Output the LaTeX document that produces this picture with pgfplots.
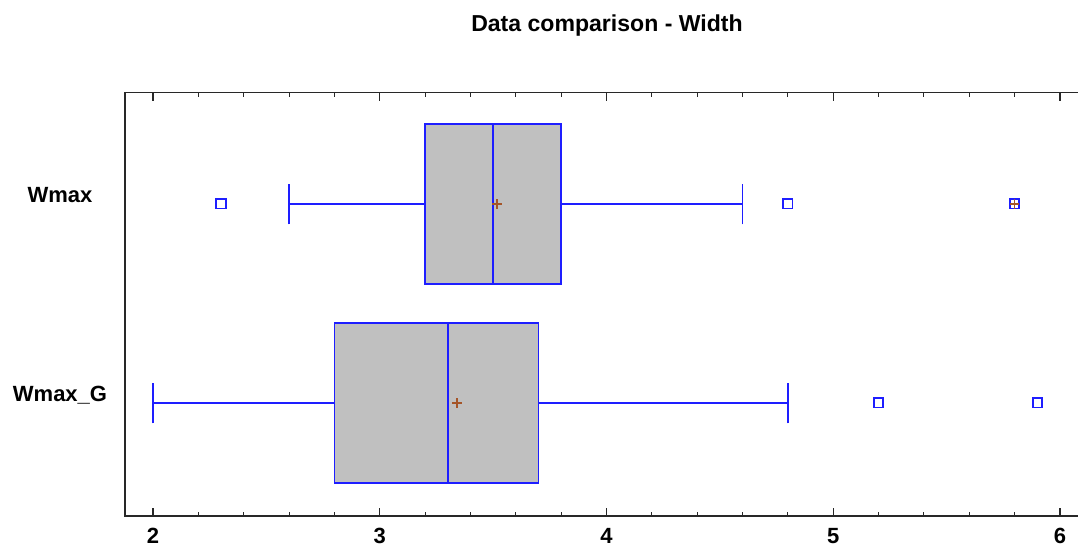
\documentclass[border=0pt]{standalone}
\usepackage{fontspec}
\setmainfont{Liberation Sans}
\usepackage{pgfplots}
\pgfplotsset{compat=1.18}
\usepgfplotslibrary{statistics}
\definecolor{boxgray}{RGB}{192,192,192}
\definecolor{meanbrown}{RGB}{165,85,40}
\definecolor{boxblue}{RGB}{30,30,255}
\definecolor{axisgray}{RGB}{40,40,40}
\begin{document}
\begin{tikzpicture}[x=1pt,y=1pt]
\useasboundingbox (-93.75,-24) rectangle (714.75,387);
\begin{axis}[
  at={(0,0)}, anchor=south west,
  scale only axis, width=717pt, height=317.5pt,
  xmin=1.8765, xmax=6.0927, ymin=0.432, ymax=2.559,
  axis line style={axisgray, line width=1pt},
  xtick={2,3,4,5,6}, minor x tick num=4,
  xtick pos=both, tick align=inside,
  major tick length=6pt, minor tick length=3pt,
  every tick/.style={axisgray, line width=0.8pt},
  ytick={1,2}, yticklabels={Wmax\_G, Wmax},
  ytick style={draw=none},
  /pgf/number format/assume math mode=true,
  xticklabel style={font=\bfseries\fontsize{16.5}{19}\selectfont, anchor=base, yshift=-21pt},
  yticklabel style={font=\bfseries\fontsize{16.5}{19}\selectfont, anchor=base, xshift=-48.75pt, yshift=1.3pt},
  title={Data comparison - Width},
  title style={font=\bfseries\fontsize{17.3}{20}\selectfont, at={(0.5,1)}, anchor=base, xshift=3pt, yshift=40pt},
  clip=false,
  boxplot/every box/.style={fill=boxgray, draw=boxblue, line width=1.1pt},
  boxplot/every median/.style={draw=boxblue, line width=1.1pt},
  boxplot/every whisker/.style={draw=boxblue, line width=1.1pt},
]
\addplot[boxplot prepared={draw direction=x, draw position=2,
    lower whisker=2.6, lower quartile=3.2, median=3.5,
    upper quartile=3.8, upper whisker=4.6,
    box extend=0.804, whisker extend=0.205},
  draw=boxblue, line width=1.1pt] coordinates {};
\addplot[boxplot prepared={draw direction=x, draw position=1,
    lower whisker=2.0, lower quartile=2.8, median=3.3,
    upper quartile=3.7, upper whisker=4.8,
    box extend=0.804, whisker extend=0.205},
  draw=boxblue, line width=1.1pt] coordinates {};
\addplot[only marks, mark=square, mark size=3.5pt, draw=boxblue,
  mark options={line width=1.3pt, fill=none}] coordinates {(2.3,2) (4.8,2) (5.8,2) (5.2,1) (5.9,1)};
\addplot[only marks, mark=+, mark size=3.6pt, draw=meanbrown,
  mark options={line width=1.1pt}] coordinates {(3.517,2) (3.34,1) (5.8,2)};
\end{axis}
\end{tikzpicture}
\end{document}
